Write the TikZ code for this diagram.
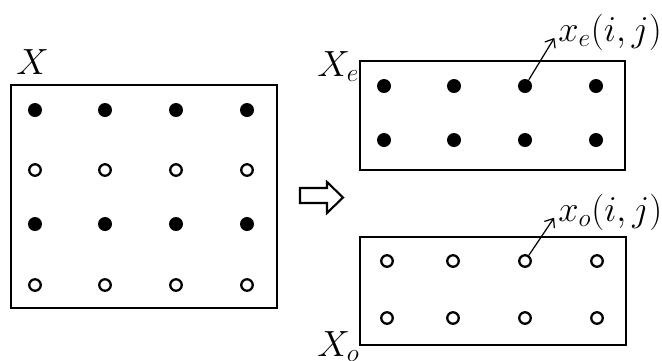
\documentclass[tikz,border=0pt]{standalone}
\usepackage{amsmath,amssymb}
\usepackage{tikz}
\usetikzlibrary{arrows.meta,positioning}
\tikzset{
  frame/.style={draw,line width=1.1pt},
  fdot/.style={circle,fill=black,minimum size=2.8mm,inner sep=0pt},
  odot/.style={circle,draw,line width=1.3pt,fill=white,minimum size=2.3mm,inner sep=0pt},
  ptr/.style={-{Straight Barb[length=1.5mm,width=2.4mm]},line width=0.7pt,shorten >=4pt},
  lbl/.style={inner sep=0pt,font=\fontsize{20}{24}\selectfont}
}
\begin{document}
\begin{tikzpicture}[x=0.02cm,y=-0.02cm]
\useasboundingbox (0,0) rectangle (662,360);
% full grid X
\draw[frame] (11,85) rectangle (277,308);
\node[lbl,anchor=base west] (X) at (16,74) {$X$};
\foreach \c/\x in {1/35,2/105,3/176,4/247} {
  \node[fdot] (X-1-\c) at (\x,110) {};
  \node[odot] (X-2-\c) at (\x,170) {};
  \node[fdot] (X-3-\c) at (\x,224) {};
  \node[odot] (X-4-\c) at (\x,285) {};
}
% split arrow
\draw[line width=1.2pt,line join=miter] (300,188) -- (327,188) -- (327,182) -- (343,197.5) -- (327,213) -- (327,203) -- (300,203) -- cycle;
% even rows X_e
\draw[frame] (360,61) rectangle (625,170);
\node[lbl,anchor=base west] (Xe) at (317,76) {$X_e$};
\foreach \c/\x in {1/384,2/454,3/525,4/596} {
  \node[fdot] (E-1-\c) at (\x,86) {};
  \node[fdot] (E-2-\c) at (\x,140) {};
}
\node[lbl,anchor=base west] (xe) at (558,41) {$x_e(i,j)$};
\draw[ptr] (E-1-3) -- (xe.west);
% odd rows X_o
\draw[frame] (360,237) rectangle (626,345);
\node[lbl,anchor=base west] (Xo) at (317,356) {$X_o$};
\foreach \c/\x in {1/387,2/453,3/525,4/597} {
  \node[odot] (O-1-\c) at (\x,261) {};
  \node[odot] (O-2-\c) at (\x,318) {};
}
\node[lbl,anchor=base west] (xo) at (558,221) {$x_o(i,j)$};
\draw[ptr] (O-1-3) -- (xo.west);
\end{tikzpicture}
\end{document}
